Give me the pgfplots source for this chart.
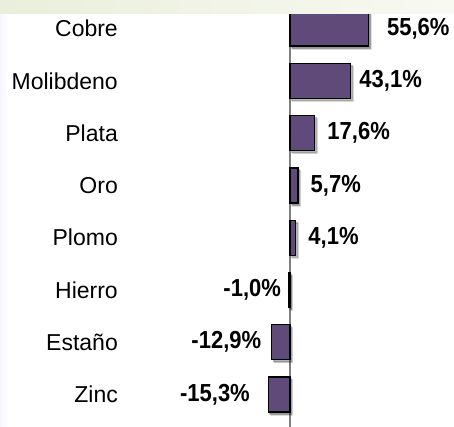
\documentclass[border=0pt]{standalone}
\usepackage{fontspec}
\setmainfont{Liberation Sans}
\usepackage{pgfplots}
\usepackage{pgfplotstable}
\pgfplotsset{compat=1.18}
\usetikzlibrary{shadows}
\definecolor{barpurple}{RGB}{96,74,122}
\definecolor{bandgreen}{RGB}{234,239,219}
\definecolor{bandlight}{RGB}{248,249,243}

% variacion por metal (%), dx = separacion de la etiqueta en bp
\pgfplotstableread{
y x label dx
7 55.6 55,6\% 18
6 43.1 43,1\% 8
5 17.6 17,6\% 12
4 5.7 5,7\% 12
3 4.1 4,1\% 12
}\positivos
\pgfplotstableread{
y x label dx
2 -1.0 -1,0\% 7
1 -12.9 -12,9\% 10
0 -15.3 -15,3\% 18
}\negativos

\pgfplotsset{sombra/.style={
    drop shadow={shadow xshift=2.5bp, shadow yshift=-3bp, fill=black, opacity=0.12},
    drop shadow={shadow xshift=1.5bp, shadow yshift=-2bp, fill=black, opacity=0.18}}}

\begin{document}
\begin{tikzpicture}
\path[use as bounding box] (0,0) rectangle (454bp,427bp);
\fill[white] (0,0) rectangle (454bp,427bp);
\shade[left color=blue!4, right color=white] (0,0) rectangle (8bp,413bp);

\begin{axis}[
    at={(0,0)}, anchor=south west,
    scale only axis,
    width=454bp, height=427bp,
    xbar, bar shift=0pt, bar width=0.67,
    xmin=-205.7, xmax=116.3,
    ymin=-0.62, ymax=7.545,
    axis line style={draw=none},
    xtick=\empty,
    ytick={0,...,7},
    yticklabels={Zinc,Estaño,Hierro,Plomo,Oro,Plata,Molibdeno,Cobre},
    major tick length=0pt,
    yticklabel style={anchor=east, inner sep=0pt, xshift=118bp,
        font=\fontsize{23bp}{27bp}\selectfont},
    extra x ticks={0},
    extra x tick labels={},
    extra x tick style={grid=major,
        major grid style={draw=gray, line width=1.3bp}},
    point meta=explicit symbolic,
    nodes near coords,
    every node near coord/.append style={
        font=\bfseries\fontsize{22bp}{26bp}\selectfont,
        yscale=1.12, inner sep=0pt, text=black},
]
\addplot[fill=barpurple, draw=black, line width=1.3bp, sombra,
    visualization depends on={\thisrow{dx} \as \dx},
    every node near coord/.append style={anchor=west, xshift=\dx*1bp}]
    table[x=x, y=y, meta=label] {\positivos};
\addplot[fill=barpurple, draw=black, line width=1.3bp, sombra,
    visualization depends on={\thisrow{dx} \as \dx},
    every node near coord/.append style={anchor=east, xshift=-\dx*1bp}]
    table[x=x, y=y, meta=label] {\negativos};
\end{axis}

\shade[left color=bandgreen, right color=bandlight] (0,413.5bp) rectangle (454bp,427bp);
\end{tikzpicture}
\end{document}
